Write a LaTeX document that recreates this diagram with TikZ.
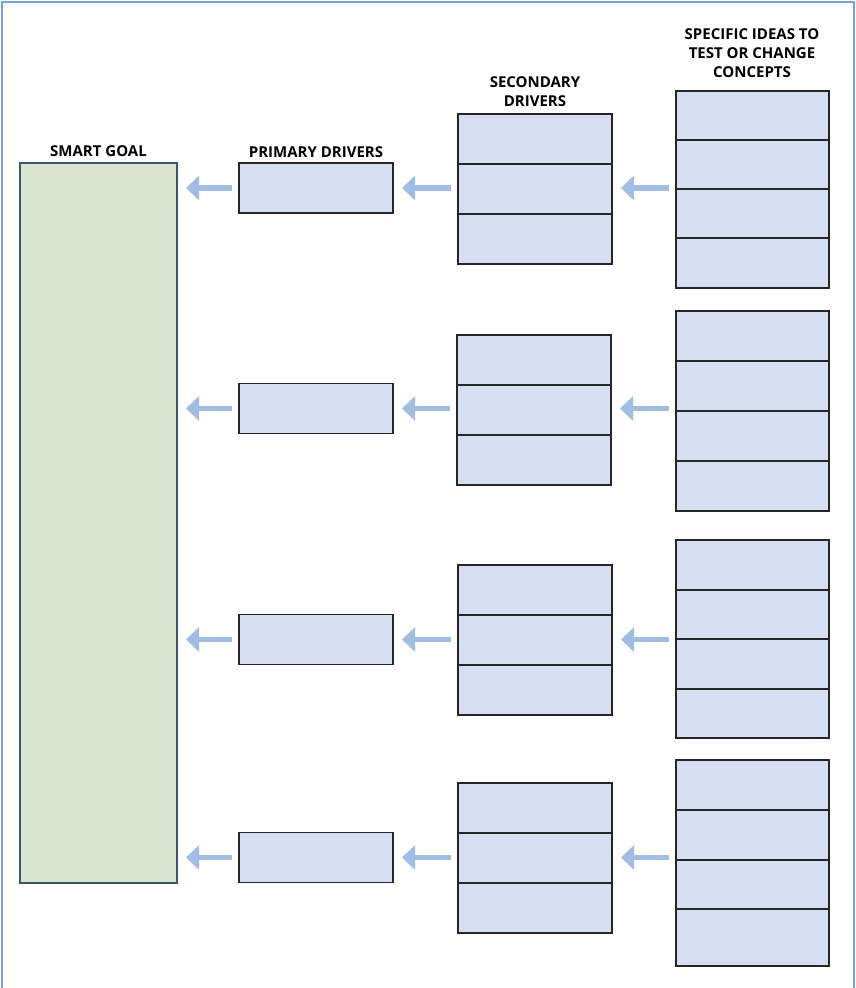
\documentclass[tikz,border=0pt]{standalone}
\usepackage{fontspec}
\setmainfont{Open Sans}
\usetikzlibrary{arrows.meta,positioning}
\definecolor{frameblue}{RGB}{120,162,215}
\definecolor{boxblue}{RGB}{214,223,241}
\definecolor{goalgreen}{RGB}{216,228,205}
\definecolor{goaledge}{RGB}{59,85,112}
\definecolor{arrowblue}{RGB}{162,189,227}
\tikzstyle{goalbox} = [rectangle, draw=goaledge, line width=1.3pt, fill=goalgreen, minimum width=157pt, minimum height=720pt, outer sep=0pt]
\tikzstyle{cell} = [rectangle, draw=black!85, line width=1.6pt, fill=boxblue, minimum width=154pt, minimum height=50pt, outer sep=0pt]
\tikzstyle{idea} = [cell, minimum width=153pt]
\tikzstyle{head} = [align=center, font=\bfseries\fontsize{15}{18.8}\selectfont, inner sep=0pt]
\tikzstyle{flow} = [arrowblue, line width=5.5pt, -{Triangle[length=13pt,width=24pt]}, shorten <=7pt, shorten >=9pt]

\begin{document}
\begin{tikzpicture}[x=1pt,y=-1pt]
\useasboundingbox (0,0) rectangle (855,988);
\draw[frameblue, line width=2pt] (1.5,988) -- (1.5,1.5) -- (853.5,1.5) -- (853.5,988);
% headings
\node (hgoal) [head] at (98.5,151) {SMART GOAL};
\node (hprim) [head] at (316,152) {PRIMARY DRIVERS};
\node (hsec) [head] at (535,92) {SECONDARY\\DRIVERS};
\node (hidea) [head] at (752,53) {SPECIFIC IDEAS TO\\TEST OR CHANGE\\CONCEPTS};
% goal
\draw (98.5,523) node (goal) [goalbox] {};
% primary drivers
\draw (316,188) node (p1) [cell] {};
\draw (316,408.5) node (p2) [cell] {};
\draw (316,639.5) node (p3) [cell] {};
\draw (316,857.5) node (p4) [cell] {};
% secondary drivers
\draw (535,139) node (s1a) [cell] {};
\node (s1b) [cell, below=0pt of s1a] {};
\node (s1c) [cell, below=0pt of s1b] {};
\draw (534,360) node (s2a) [cell] {};
\node (s2b) [cell, below=0pt of s2a] {};
\node (s2c) [cell, below=0pt of s2b] {};
\draw (535,590) node (s3a) [cell] {};
\node (s3b) [cell, below=0pt of s3a] {};
\node (s3c) [cell, below=0pt of s3b] {};
\draw (535,808) node (s4a) [cell] {};
\node (s4b) [cell, below=0pt of s4a] {};
\node (s4c) [cell, below=0pt of s4b] {};
% ideas
\draw (752.5,115.5) node (i1a) [idea, minimum height=49pt] {};
\node (i1b) [idea, minimum height=49pt, below=0pt of i1a] {};
\node (i1c) [idea, minimum height=49pt, below=0pt of i1b] {};
\node (i1d) [idea, minimum height=50pt, below=0pt of i1c] {};
\draw (752.5,336) node (i2a) [idea] {};
\node (i2b) [idea, below=0pt of i2a] {};
\node (i2c) [idea, below=0pt of i2b] {};
\node (i2d) [idea, below=0pt of i2c] {};
\draw (752.5,565) node (i3a) [idea] {};
\node (i3b) [idea, minimum height=49pt, below=0pt of i3a] {};
\node (i3c) [idea, below=0pt of i3b] {};
\node (i3d) [idea, minimum height=49pt, below=0pt of i3c] {};
\draw (752.5,785) node (i4a) [idea] {};
\node (i4b) [idea, below=0pt of i4a] {};
\node (i4c) [idea, minimum height=49pt, below=0pt of i4b] {};
\node (i4d) [idea, minimum height=57pt, below=0pt of i4c] {};
% arrows
\draw[flow] (p1.west) -- (p1.west -| goal.east);
\draw[flow] (p2.west) -- (p2.west -| goal.east);
\draw[flow] (p3.west) -- (p3.west -| goal.east);
\draw[flow] (p4.west) -- (p4.west -| goal.east);
\draw[flow] (s1b.west |- p1.east) -- (p1.east);
\draw[flow] (s2b.west |- p2.east) -- (p2.east);
\draw[flow] (s3b.west |- p3.east) -- (p3.east);
\draw[flow] (s4b.west |- p4.east) -- (p4.east);
\draw[flow] (i1b.west |- p1.east) -- (p1.east -| s1b.east);
\draw[flow] (i2b.west |- p2.east) -- (p2.east -| s2b.east);
\draw[flow] (i3b.west |- p3.east) -- (p3.east -| s3b.east);
\draw[flow] (i4b.west |- p4.east) -- (p4.east -| s4b.east);
\end{tikzpicture}
\end{document}
